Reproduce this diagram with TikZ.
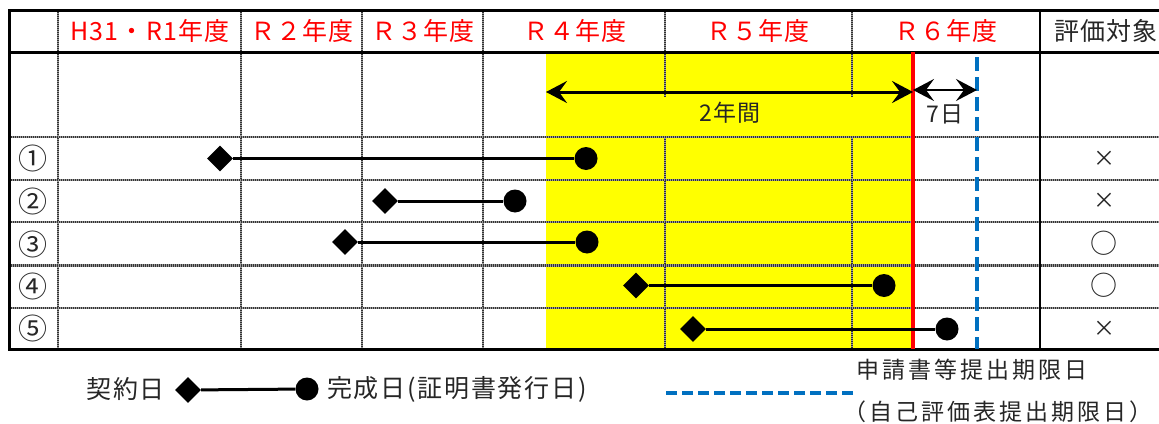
\documentclass[tikz,border=0pt]{standalone}
\usepackage{fontspec}
\setmainfont{Noto Sans CJK JP}
\newfontfamily\hdrfont[LetterSpace=5]{Noto Sans CJK JP}
\newfontfamily\legfont[LetterSpace=7]{Noto Sans CJK JP}
\newfontfamily\legbfont[LetterSpace=13]{Noto Sans CJK JP}
\usetikzlibrary{shapes.geometric,arrows.meta}
\definecolor{xlblue}{RGB}{0,112,192}
\definecolor{xlred}{RGB}{255,0,0}
\definecolor{xlyellow}{RGB}{255,255,0}
\tikzset{
  gridline/.style={line width=2.6pt, draw=black!80, dash pattern=on 1pt off 1pt,
    preaction={draw=black!40, solid, line width=2.6pt}},
  border/.style={line width=3pt, draw=black},
  hdr/.style={text=xlred, font=\hdrfont\fontsize{25}{25}\selectfont, inner sep=0pt},
  hdrk/.style={hdr, text=black!85},
  cellmark/.style={font=\fontsize{29}{29}\selectfont, inner sep=0pt, text=black!85},
  crossmark/.style={font=\fontsize{22}{22}\selectfont, inner sep=0pt, text=black!85},
  ringmark/.style={font=\fontsize{27}{27}\selectfont, inner sep=0pt, text=black!85},
  startmark/.style={diamond, fill=black, inner sep=0pt, minimum width=26pt, minimum height=26pt},
  endmark/.style={circle, fill=black, inner sep=0pt, minimum size=23pt},
  link/.style={line width=3pt, draw=black},
  gaparrow/.style={draw=black, {Stealth[length=21pt,width=22pt,inset=8pt]}-{Stealth[length=21pt,width=22pt,inset=8pt]}},
  lbl/.style={font=\hdrfont\fontsize{23}{23}\selectfont, inner sep=0pt, text=black!85},
  leg/.style={font=\legfont\fontsize{25}{25}\selectfont, inner sep=0pt, text=black!85},
  legb/.style={font=\legbfont\fontsize{23}{23}\selectfont, inner sep=0pt, text=black!85},
  deadline/.style={draw=xlblue, line width=3.5pt, dash pattern=on 14pt off 6pt},
}
\begin{document}
\begin{tikzpicture}[x=1pt,y=-1pt]
\useasboundingbox (0,0) rectangle (1159,423);
% yellow period
\fill[xlyellow] (546,52) rectangle (913,349);
% grid lines
\foreach \gx in {58,241,362,483} \draw[gridline] (\gx,10) -- (\gx,349);
\foreach \gx in {665,852} {\draw[gridline] (\gx,10) -- (\gx,97); \draw[gridline] (\gx,137) -- (\gx,349);}
\foreach \gy in {137,180,222,265.5,308} \draw[gridline] (9,\gy) -- (1159,\gy);
% borders
\draw[border] (1159,10) -- (9,10) -- (9,349) -- (1159,349);
\draw[border] (9,52) -- (1159,52);
\draw[line width=2.2pt] (1040,10) -- (1040,349);
% red and blue limit lines
\draw[xlred, line width=3.5pt] (913,52) -- (913,349);
\draw[deadline] (977,57) -- (977,349);
% headers
\node[hdr] (h1) at (150,31) {H31・R1年度};
\node[hdr] (h2) at (302,31) {Ｒ２年度};
\node[hdr] (h3) at (423,31) {Ｒ３年度};
\node[hdr] (h4) at (575,31) {Ｒ４年度};
\node[hdr] (h5) at (758,31) {Ｒ５年度};
\node[hdr] (h6) at (946,31) {Ｒ６年度};
\node[hdrk] (h7) at (1106,31) {評価対象};
% spans
\coordinate (p1) at (546,92);
\coordinate (p2) at (913,92);
\coordinate (q1) at (913,90);
\coordinate (q2) at (977,90);
\draw[gaparrow, line width=3pt] (p1) -- (p2);
\draw[gaparrow, line width=2.2pt] (q1) -- (q2);
\node[lbl] (t2y) at (730,113) {2年間};
\node[lbl] (t7d) at (945,114) {7日};
% rows
\node[cellmark] (n1) at (33,158.5) {①};
\node[cellmark] (n2) at (33,201) {②};
\node[cellmark] (n3) at (33,244) {③};
\node[cellmark] (n4) at (33,286.5) {④};
\node[cellmark] (n5) at (33,328.5) {⑤};
\node[crossmark] (e1) at (1104,158.5) {×};
\node[crossmark] (e2) at (1104,201) {×};
\node[ringmark] (e3) at (1104,243) {○};
\node[ringmark] (e4) at (1104,285.5) {○};
\node[crossmark] (e5) at (1104,328.5) {×};
% contracts
\node[startmark] (s1) at (220,158.5) {};
\node[endmark]   (f1) at (586,158.5) {};
\node[startmark] (s2) at (385,201) {};
\node[endmark]   (f2) at (515,201) {};
\node[startmark] (s3) at (345,242) {};
\node[endmark]   (f3) at (587,242) {};
\node[startmark] (s4) at (636,285.5) {};
\node[endmark]   (f4) at (884,285.5) {};
\node[startmark] (s5) at (693,329) {};
\node[endmark]   (f5) at (947,329) {};
\foreach \i in {1,...,5} \draw[link] (s\i) -- (f\i);
% legend
\node[startmark] (ls) at (188,390) {};
\node[endmark]   (lf) at (307,389) {};
\draw[link] (ls) -- (lf);
\node[leg, anchor=east] (lt1) at (165,389) {契約日};
\node[leg, anchor=west] (lt2) at (327,389) {完成日(証明書発行日)};
\coordinate (b1) at (853,393);
\coordinate (b2) at (664,393);
\draw[xlblue, line width=3.5pt, dash pattern=on 11pt off 5pt] (b1) -- (b2);
\node[legb, anchor=west] (lt3) at (856,370) {申請書等提出期限日};
\node[legb, anchor=west] (lt4) at (843,412) {（自己評価表提出期限日）};
\end{tikzpicture}
\end{document}
